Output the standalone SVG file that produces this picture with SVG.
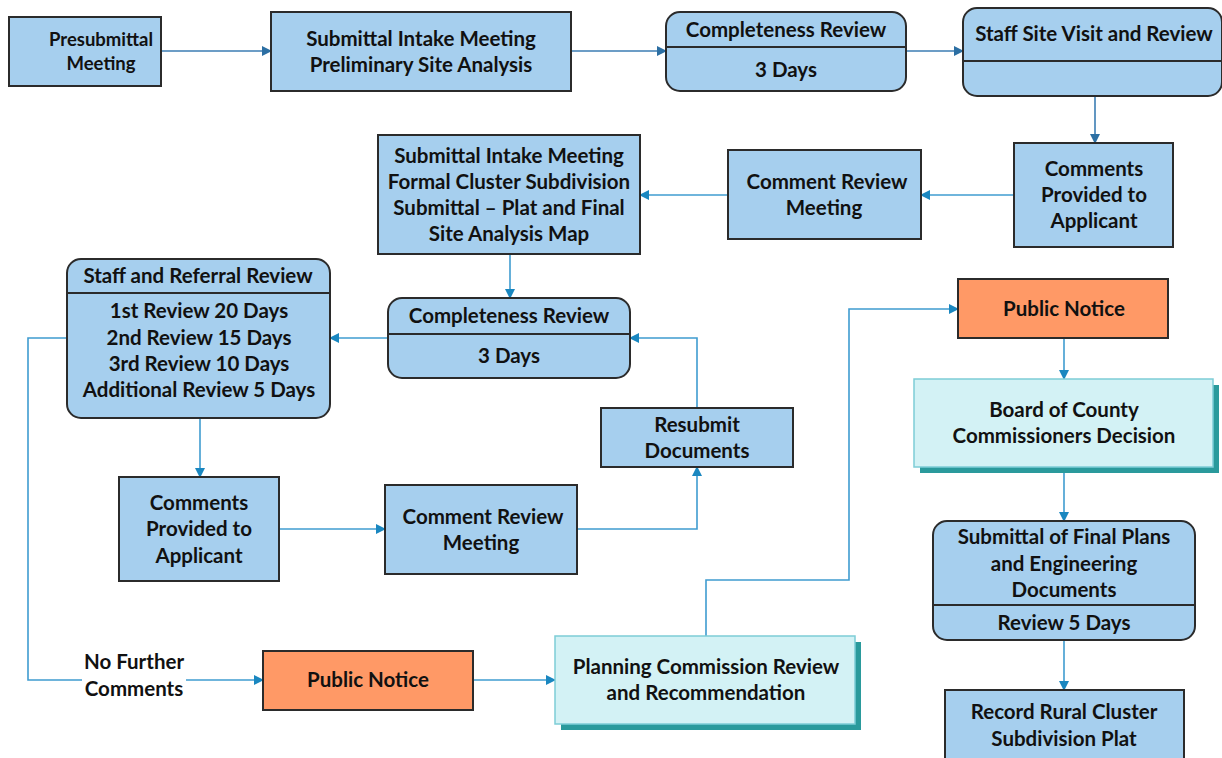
<svg xmlns="http://www.w3.org/2000/svg" width="1222" height="758" viewBox="0 0 1222 758">
<defs>
<marker id="ah" viewBox="0 0 10 10" refX="9" refY="5" markerWidth="10" markerHeight="10" markerUnits="userSpaceOnUse" orient="auto">
<path d="M0,0 L10,5 L0,10 Z" fill="#1a87c0"/>
</marker>
<marker id="ahd" viewBox="0 0 10 10" refX="9" refY="5" markerWidth="10" markerHeight="10" markerUnits="userSpaceOnUse" orient="auto">
<path d="M0,0 L10,5 L0,10 Z" fill="#2c6fa3"/>
</marker>
</defs>
<style>
.b{fill:#a6cfee;stroke:#2b2b2b;stroke-width:2}
.o{fill:#ff9966;stroke:#2b2b2b;stroke-width:2}
.c{fill:#d3f2f5;stroke:#7dcdd6;stroke-width:1.5}
.sh{fill:#2a9a9c}
.dv{stroke:#2b2b2b;stroke-width:2}
text{font-family:Lato,"Open Sans","Liberation Sans",sans-serif;font-weight:bold;font-size:20.5px;fill:#111;text-anchor:middle}
.s{font-size:18.5px}
.ln{fill:none;stroke:#3f9cd0;stroke-width:1.6;marker-end:url(#ah)}
.lnn{fill:none;stroke:#3f9cd0;stroke-width:1.6}
.ld{fill:none;stroke:#3b7db3;stroke-width:1.6;marker-end:url(#ahd)}
</style>
<rect width="1222" height="758" fill="#fff"/>
<g id="connectors">
<path class="ld" d="M161,51 H271"/>
<path class="ld" d="M571,51 H666"/>
<path class="ld" d="M906,51 H963"/>
<path class="ld" d="M1095,96 V143"/>
<path class="ln" d="M1014,195 H921"/>
<path class="ln" d="M728,195 H640"/>
<path class="ln" d="M510,254 V298"/>
<path class="ln" d="M388,338 H330"/>
<path class="ln" d="M200,418 V477"/>
<path class="ln" d="M279,529 H385"/>
<path class="ln" d="M577,529 H697 V467"/>
<path class="ln" d="M697,408 V338 H630"/>
<path class="lnn" d="M67,338 H28 V680 H82"/>
<path class="ln" d="M186,680 H263"/>
<path class="ln" d="M473,680 H555"/>
<path class="ln" d="M706,636 V580 H849 V309 H958"/>
<path class="ln" d="M1064,338 V379"/>
<path class="ln" d="M1064,467 V521"/>
<path class="ln" d="M1064,640 V690"/>
<text x="134" y="669">No Further</text>
<text x="134" y="696">Comments</text>
</g>
<g id="presubmittal">
<rect class="b" x="9" y="17" width="152" height="69"/>
<text class="s" x="101" y="46">Presubmittal</text>
<text class="s" x="101" y="70">Meeting</text>
</g>
<g id="intake-prelim">
<rect class="b" x="271" y="12" width="300" height="79"/>
<text x="421" y="46">Submittal Intake Meeting</text>
<text x="421" y="72">Preliminary Site Analysis</text>
</g>
<g id="completeness-1">
<rect class="b" x="666" y="12" width="240" height="79" rx="14"/>
<line class="dv" x1="666" y1="47" x2="906" y2="47"/>
<text x="786" y="37">Completeness Review</text>
<text x="786" y="77">3 Days</text>
</g>
<g id="site-visit">
<rect class="b" x="963" y="8" width="259" height="88" rx="14"/>
<line class="dv" x1="963" y1="61" x2="1222" y2="61"/>
<text x="1094" y="41">Staff Site Visit and Review</text>
</g>
<g id="comments-1">
<rect class="b" x="1014" y="143" width="159" height="104"/>
<text x="1094" y="176">Comments</text>
<text x="1094" y="202">Provided to</text>
<text x="1094" y="228">Applicant</text>
</g>
<g id="crm-1">
<rect class="b" x="728" y="150" width="193" height="89"/>
<text x="827" y="189">Comment Review</text>
<text x="824" y="215">Meeting</text>
</g>
<g id="intake-formal">
<rect class="b" x="378" y="135" width="262" height="119"/>
<text x="509" y="163">Submittal Intake Meeting</text>
<text x="509" y="189">Formal Cluster Subdivision</text>
<text x="509" y="215">Submittal – Plat and Final</text>
<text x="509" y="241">Site Analysis Map</text>
</g>
<g id="completeness-2">
<rect class="b" x="388" y="298" width="242" height="80" rx="14"/>
<line class="dv" x1="388" y1="334" x2="630" y2="334"/>
<text x="509" y="323">Completeness Review</text>
<text x="509" y="363">3 Days</text>
</g>
<g id="staff-referral">
<rect class="b" x="67" y="259" width="263" height="159" rx="14"/>
<line class="dv" x1="67" y1="293" x2="330" y2="293"/>
<text x="198" y="283">Staff and Referral Review</text>
<text x="199" y="318">1st Review 20 Days</text>
<text x="199" y="345">2nd Review 15 Days</text>
<text x="199" y="371">3rd Review 10 Days</text>
<text x="199" y="397">Additional Review 5 Days</text>
</g>
<g id="comments-2">
<rect class="b" x="119" y="477" width="160" height="104"/>
<text x="199" y="510">Comments</text>
<text x="199" y="536">Provided to</text>
<text x="199" y="563">Applicant</text>
</g>
<g id="crm-2">
<rect class="b" x="385" y="485" width="192" height="89"/>
<text x="483" y="524">Comment Review</text>
<text x="481" y="550">Meeting</text>
</g>
<g id="resubmit">
<rect class="b" x="601" y="408" width="192" height="59"/>
<text x="697" y="432">Resubmit</text>
<text x="697" y="458">Documents</text>
</g>
<g id="public-notice-1">
<rect class="o" x="263" y="651" width="210" height="59"/>
<text x="368" y="687">Public Notice</text>
</g>
<g id="planning">
<rect class="sh" x="561" y="642" width="300" height="88"/>
<rect class="c" x="555" y="636" width="300" height="88"/>
<text x="706" y="674">Planning Commission Review</text>
<text x="706" y="700">and Recommendation</text>
</g>
<g id="public-notice-2">
<rect class="o" x="958" y="279" width="210" height="59"/>
<text x="1064" y="316">Public Notice</text>
</g>
<g id="board">
<rect class="sh" x="920" y="385" width="299" height="88"/>
<rect class="c" x="914" y="379" width="299" height="88"/>
<text x="1064" y="417">Board of County</text>
<text x="1064" y="443">Commissioners Decision</text>
</g>
<g id="final-plans">
<rect class="b" x="933" y="521" width="262" height="119" rx="14"/>
<line class="dv" x1="933" y1="605" x2="1195" y2="605"/>
<text x="1064" y="544">Submittal of Final Plans</text>
<text x="1064" y="571">and Engineering</text>
<text x="1064" y="597">Documents</text>
<text x="1064" y="630">Review 5 Days</text>
</g>
<g id="record">
<rect class="b" x="945" y="690" width="239" height="80"/>
<text x="1064" y="719">Record Rural Cluster</text>
<text x="1064" y="746">Subdivision Plat</text>
</g>
</svg>
